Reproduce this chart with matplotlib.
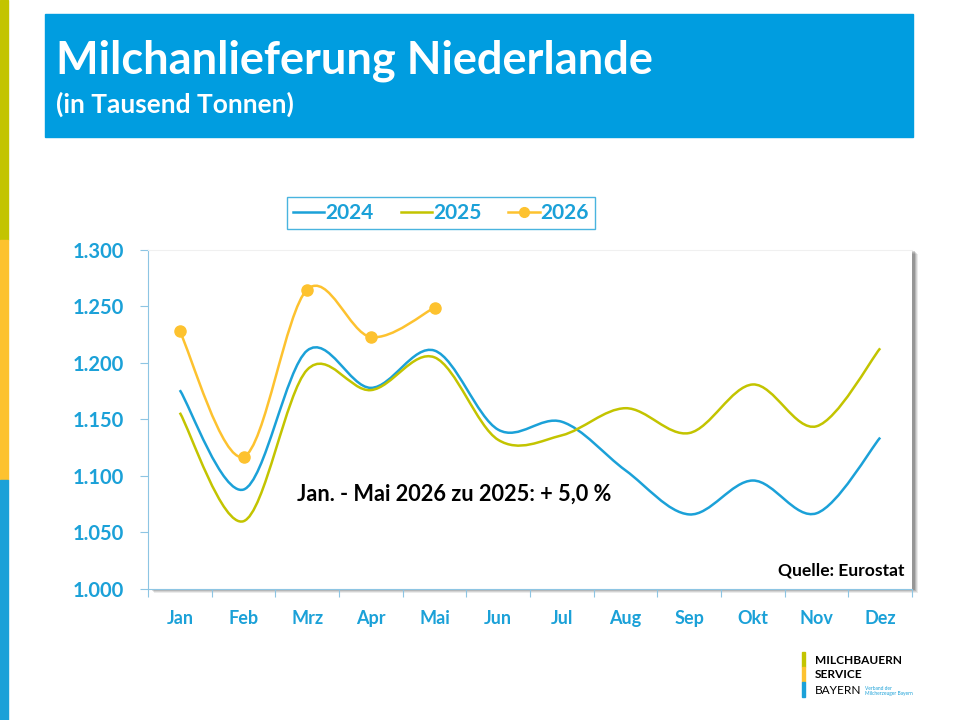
import numpy as np
import matplotlib.pyplot as plt
from matplotlib.path import Path
from matplotlib.patches import PathPatch, Rectangle
from matplotlib.lines import Line2D
from matplotlib.ticker import FuncFormatter

months = ["Jan", "Feb", "Mrz", "Apr", "Mai", "Jun", "Jul", "Aug", "Sep", "Okt", "Nov", "Dez"]
y2024 = [1176, 1088, 1211, 1178, 1211, 1141, 1148, 1105, 1066, 1096, 1067, 1134]
y2025 = [1156, 1060, 1194, 1176, 1205, 1132, 1136, 1160, 1138, 1181, 1144, 1213]
y2026 = [1228, 1117, 1265, 1223, 1249]

BLUE = "#1BA1D8"
OLIVE = "#C3C400"
YELLOW = "#FDC22F"
HEAD = "#009DE0"
AXC = "#8DC5E3"

plt.rcParams['font.family'] = ['Lato', 'DejaVu Sans']


def smooth_path(xs, ys):
    # excel-like smoothed line: catmull-rom as cubic bezier pieces
    p = np.column_stack([xs, ys]).astype(float)
    n = len(p)
    verts = [p[0]]
    codes = [Path.MOVETO]
    for i in range(n - 1):
        p0 = p[i - 1] if i > 0 else p[i]
        p3 = p[i + 2] if i + 2 < n else p[i + 1]
        c1 = p[i] + (p[i + 1] - p0) / 6
        c2 = p[i + 1] - (p3 - p[i]) / 6
        verts += [c1, c2, p[i + 1]]
        codes += [Path.CURVE4] * 3
    return Path(verts, codes)


fig = plt.figure(figsize=(9.6, 7.2), dpi=100)
W, H = 960, 720


def fx(px):
    return px / W


def fy(py):
    return 1 - py / H


# left colour stripes
for top, bot, c in [(0, 240, OLIVE), (240, 480, YELLOW), (480, 720, BLUE)]:
    fig.patches.append(Rectangle((0, fy(bot)), fx(8), (bot - top) / H,
                                 transform=fig.transFigure, color=c, zorder=0))

# header
fig.patches.append(Rectangle((fx(45), fy(137)), fx(913 - 45), 123 / H,
                             transform=fig.transFigure, color=HEAD, zorder=0))
fig.text(fx(56), fy(61), "Milchanlieferung Niederlande", color="white",
         fontsize=32.5, fontweight="bold", va="center", ha="left")
fig.text(fx(56), fy(104), "(in Tausend Tonnen)", color="white",
         fontsize=19, fontweight="bold", va="center", ha="left")

# plot area
L, R, T, B = 148, 912, 250, 589
ax = fig.add_axes([fx(L), fy(B), fx(R - L), (B - T) / H])
ax.set_zorder(2)

# shadow behind plot area
for k, a in enumerate([0.08, 0.10, 0.13, 0.18]):
    off = 4 - k
    fig.patches.append(Rectangle((fx(L + off + 2), fy(B + off)), fx(R - L), (B - T) / H,
                                 transform=fig.transFigure, color="#000000",
                                 alpha=a, lw=0, zorder=1))

x = np.arange(len(months))
ax.add_patch(PathPatch(smooth_path(x, y2024), fill=False, ec=BLUE, lw=1.8))
ax.add_patch(PathPatch(smooth_path(x, y2025), fill=False, ec=OLIVE, lw=1.8))
ax.add_patch(PathPatch(smooth_path(x[:5], y2026), fill=False, ec=YELLOW, lw=1.8))
ax.plot(x[:5], y2026, "o", color=YELLOW, ms=8, zorder=5)

ax.set_xlim(-0.5, 11.5)
ax.set_ylim(1000, 1300)
ax.set_yticks(np.arange(1000, 1301, 50))
ax.yaxis.set_major_formatter(FuncFormatter(lambda v, _: f"{v:,.0f}".replace(",", ".")))
ax.set_xticks(np.arange(-0.5, 12, 1))
ax.set_xticklabels([])
ax.set_xticks(x, minor=True)
ax.set_xticklabels(months, minor=True)
ax.tick_params(axis="x", which="major", length=6, color=AXC, direction="out")
ax.tick_params(axis="x", which="minor", length=0, pad=15, labelsize=13,
               labelcolor=BLUE)
ax.tick_params(axis="y", length=6, color=AXC, pad=11, labelsize=14.5, labelcolor=BLUE)
for lab in ax.get_xticklabels(minor=True) + ax.get_yticklabels():
    lab.set_fontweight("bold")

ax.spines["left"].set_color(AXC)
ax.spines["bottom"].set_color(AXC)
ax.spines["top"].set_color("#F0F0F0")
ax.spines["right"].set_visible(False)

ax.text(4.31, 1084, "Jan. - Mai 2026 zu 2025: + 5,0 %", fontsize=15.7,
        fontweight="bold", color="black", ha="center", va="center")
ax.text(0.99, 0.055, "Quelle: Eurostat", transform=ax.transAxes, fontsize=12.6,
        fontweight="bold", color="black", ha="right", va="center")

handles = [Line2D([], [], color=BLUE, lw=1.8),
           Line2D([], [], color=OLIVE, lw=1.8),
           Line2D([], [], color=YELLOW, lw=1.8, marker="o", ms=7)]
leg = ax.legend(handles, ["2024", "2025", "2026"], loc="center", ncol=3,
                bbox_to_anchor=(fx(441), fy(213)), bbox_transform=fig.transFigure,
                frameon=True, fancybox=False, handlelength=1.5, handletextpad=0.05,
                columnspacing=1.3, borderpad=0.3,
                prop={"weight": "bold", "size": 15}, labelcolor=BLUE)
leg.get_frame().set_edgecolor(BLUE)
leg.get_frame().set_linewidth(1)

# logo
for top, bot, c in [(652, 667, OLIVE), (667, 682, YELLOW), (682, 697, BLUE)]:
    fig.patches.append(Rectangle((fx(802), fy(bot)), fx(3), (bot - top) / H,
                                 transform=fig.transFigure, color=c, zorder=0))
fig.text(fx(815), fy(660), "MILCHBAUERN", fontsize=8.6, fontweight="bold", va="center")
fig.text(fx(815), fy(675), "SERVICE", fontsize=8.6, fontweight="bold", va="center")
fig.text(fx(815), fy(691), "BAYERN", fontsize=8.6, va="center")
fig.text(fx(865), fy(688), "Verband der", fontsize=3.5, color=BLUE, va="center")
fig.text(fx(865), fy(694), "Milcherzeuger Bayern", fontsize=3.5, color=BLUE, va="center")

fig.savefig("out.png", dpi=100, facecolor="white")
